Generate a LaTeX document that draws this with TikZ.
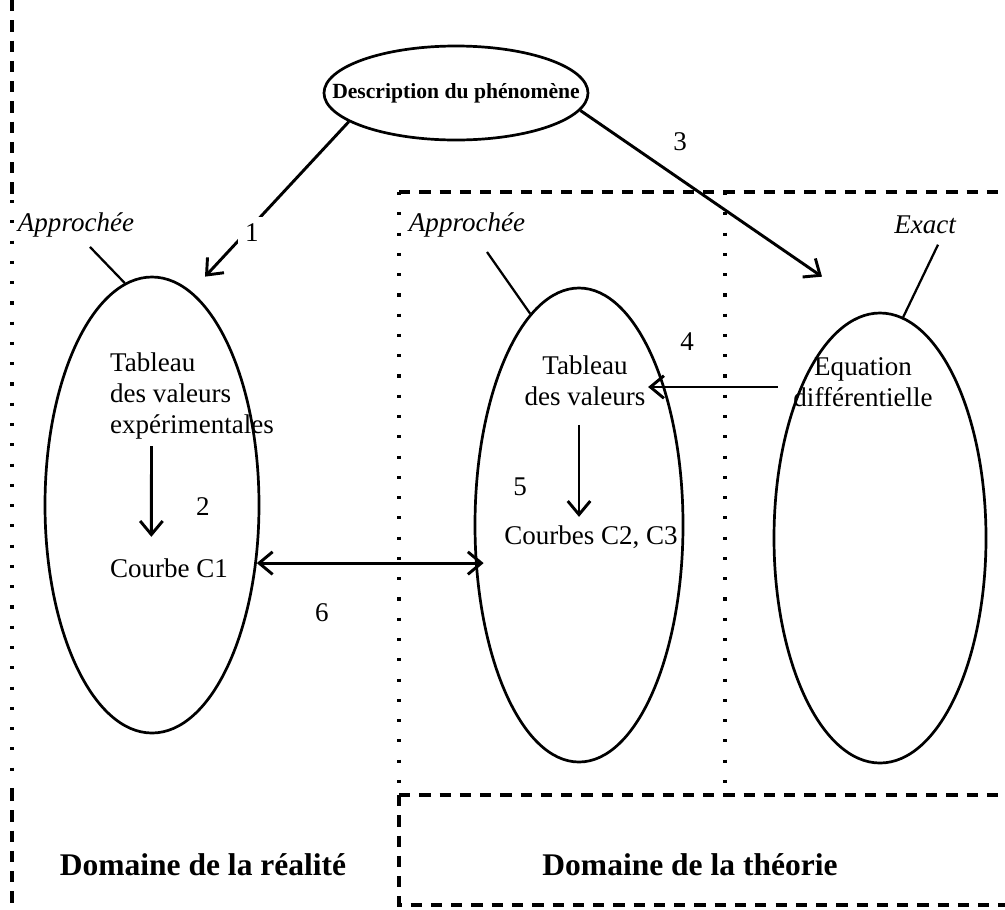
\documentclass[tikz,border=0pt]{standalone}
\usepackage{fontspec}
\setmainfont{Liberation Serif}
\usetikzlibrary{shapes.geometric,arrows.meta,calc}

\newcommand{\pxu}{0.444pt}

\begin{document}
\begin{tikzpicture}[x=\pxu, y=-\pxu,
		bulle/.style={draw, ellipse, line width=1.2pt, inner sep=0pt},
		fleche/.style={line width=1.3pt, -{Straight Barb[length=6pt,width=10pt]}},
		doublefleche/.style={line width=1.3pt, {Straight Barb[length=6pt,width=10pt]}-{Straight Barb[length=6pt,width=10pt]}},
		trait/.style={line width=1pt},
		tirets/.style={line width=1.6pt, dash pattern=on 5pt off 4pt},
		pointille/.style={line width=1.4pt, dash pattern=on 1.4pt off 7.6pt},
		texte/.style={font=\fontsize{12}{13.8}\selectfont, inner sep=1pt},
		penche/.style={font=\fontsize{12}{13.8}\selectfont\itshape, inner sep=1pt},
		domaine/.style={font=\fontsize{14}{16}\selectfont\bfseries}]

	\useasboundingbox (0,0) rectangle (1005,909);

	% cadres
	\coordinate (G1) at (12,0);
	\coordinate (G2) at (12,200);
	\coordinate (G3) at (12,790);
	\coordinate (G4) at (12,909);

	\coordinate (T1) at (399,192);
	\coordinate (T2) at (1005,192);
	\coordinate (T3) at (399,795);
	\coordinate (T4) at (1005,795);
	\coordinate (T5) at (399,905);
	\coordinate (T6) at (1005,905);
	\coordinate (V1) at (725,192);
	\coordinate (V2) at (725,795);

	\draw[tirets] (G1) -- (G2);
	\draw[pointille] (G2) -- (G3);
	\draw[tirets] (G3) -- (G4);

	\draw[tirets] (T1) -- (T2);
	\draw[pointille] (T1) -- (T3);
	\draw[tirets] (T3) -- (T4);
	\draw[tirets] (T3) -- (T5) -- (T6);
	\draw[pointille] (V1) -- (V2);

	% bulles
	\node[bulle, minimum width=264*\pxu, minimum height=94*\pxu] (D) at (456,93) {};
	\node[bulle, minimum width=214*\pxu, minimum height=456*\pxu] (L) at (152,505) {};
	\node[bulle, minimum width=208*\pxu, minimum height=474*\pxu] (M) at (579,525) {};
	\node[bulle, minimum width=212*\pxu, minimum height=450*\pxu] (R) at (880,538) {};

	\node[font=\fontsize{9.6}{11}\selectfont\bfseries] (Dtxt) at (D) {Description du phénomène};

	\node[texte, align=left] (tabexp) at (192,396) {Tableau\\des valeurs\\expérimentales};
	\node[texte] (c1) at (169,568) {Courbe C1};
	\node[texte, align=center] (tabth) at (585,381) {Tableau\\des valeurs};
	\node[texte] (c23) at (591,537) {Courbes C2, C3};
	\node[texte, align=center] (eqdiff) at (863,382) {Equation\\différentielle};

	\node[penche] (apL) at (76,225) {Approchée};
	\node[penche] (apM) at (467,225) {Approchée};
	\node[penche] (apR) at (925,225) {Exact};

	\draw[trait] ($(apL.south)+(14,7)$) -- (L.97.5);
	\draw[trait] ($(apM.south)+(20,12)$) -- (M.103);
	\draw[trait] ($(apR.south)+(13,8)$) -- (R.84);

	% fleches
	\draw[fleche] (D.195) -- ($(L.north)+(53,1)$);
	\node[texte, fill=white, inner sep=3pt] (n1) at (252,233) {1};

	\draw[fleche] ($(tabexp.south west)+(44,4)$) -- ($(c1.north west)+(44,-19)$);
	\node[texte] (n2) at (203,507) {2};

	\draw[fleche] (D.-8) -- ($(R.north)+(-58,-35)$);
	\node[texte] (n3) at (680,142) {3};

	\coordinate (a4) at ($(eqdiff.west)+(-13,5)$);
	\draw[fleche] (a4) -- (a4 -| tabth.east);
	\node[texte] (n4) at (687,342) {4};

	\draw[fleche] ($(tabth.south)+(-6,16)$) -- ($(c23.north)+(-12,-6)$);
	\node[texte] (n5) at (520,487) {5};

	\draw[doublefleche] (L.-29) -- ($(L.-29 -| M.west)+(10,0)$);
	\node[texte] (n6) at (322,613) {6};

	\node[domaine] (dreal) at (203,865) {Domaine de la réalité};
	\node[domaine] (dtheo) at (690,865) {Domaine de la théorie};

\end{tikzpicture}
\end{document}
